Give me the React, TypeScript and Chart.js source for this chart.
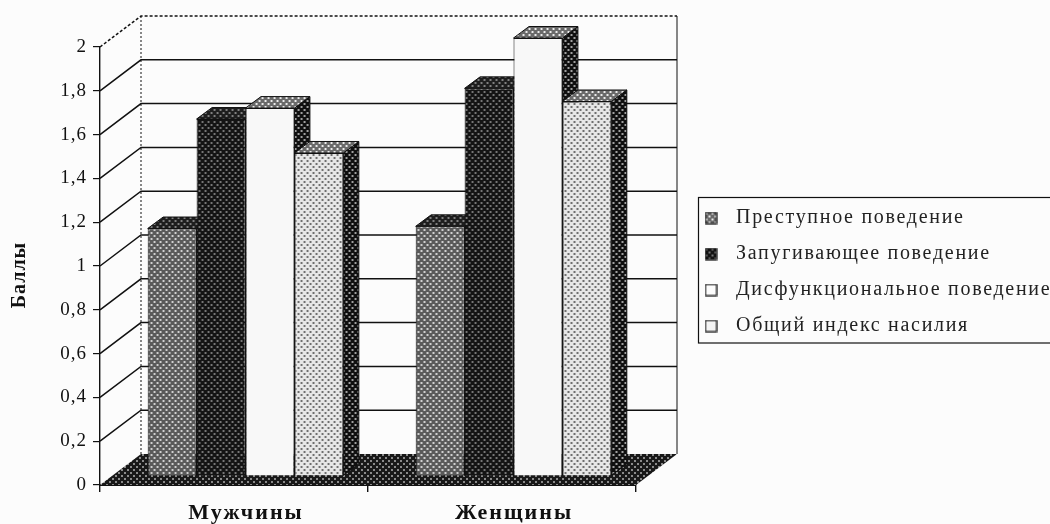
import React, { useEffect, useRef } from "react";
import { Chart, registerables } from "chart.js";

Chart.register(...registerables);

const categories = ["Мужчины", "Женщины"];
const tickLabels: Record<number, string> = {
  0: "0", 0.2: "0,2", 0.4: "0,4", 0.6: "0,6", 0.8: "0,8", 1: "1",
  1.2: "1,2", 1.4: "1,4", 1.6: "1,6", 1.8: "1,8", 2: "2",
};
const seriesNames = [
  "Преступное поведение",
  "Запугивающее поведение",
  "Дисфункциональное поведение",
  "Общий индекс насилия",
];
const criminal = [1.13, 1.14];
const intimidating = [1.63, 1.77];
const dysfunctional = [1.68, 2.0];
const violenceIndex = [1.475, 1.71];

const SERIF = '"Liberation Serif", serif';
const INK = "#111111";
const PAPER = "#fcfcfc";
const DEPTH = { x: 41, y: -31 };
const BAR_SHIFT = { x: 11.5, y: -9 };
const BAR_DEPTH = { x: 15.5, y: -11.5 };

function halftone(bg: string, dot: string): CanvasPattern {
  const c = document.createElement("canvas");
  c.width = 6;
  c.height = 6;
  const g = c.getContext("2d")!;
  g.fillStyle = bg;
  g.fillRect(0, 0, 6, 6);
  g.fillStyle = dot;
  g.fillRect(1, 1, 2, 2);
  g.fillRect(4, 4, 2, 2);
  return g.createPattern(c, "repeat")!;
}

function marker(fill: string | CanvasPattern): HTMLCanvasElement {
  const c = document.createElement("canvas");
  c.width = 13;
  c.height = 13;
  const g = c.getContext("2d")!;
  g.fillStyle = fill;
  g.fillRect(1, 1, 11, 11);
  g.strokeStyle = INK;
  g.lineWidth = 1.2;
  g.strokeRect(1, 1, 11, 11);
  return c;
}

function spaced(c: any, box: any, spacing: string) {
  if (box.__spaced) return;
  box.__spaced = true;
  const draw = box.draw.bind(box);
  box.draw = (area: any) => {
    c.ctx.letterSpacing = spacing;
    draw(area);
    c.ctx.letterSpacing = "0px";
  };
}

export default function App() {
  const ref = useRef<HTMLCanvasElement>(null);

  useEffect(() => {
    const canvas = ref.current!;
    const fills = {
      criminal: halftone("#5a5a5a", "#d0d0d0"),
      intimidating: halftone("#141414", "#767676"),
      dysfunctional: "#f8f8f8",
      index: halftone("#e6e6e6", "#6e6e6e"),
      side: halftone("#101010", "#a0a0a0"),
      topDark: halftone("#1e1e1e", "#808080"),
      topLight: halftone("#6a6a6a", "#ececec"),
      floor: halftone("#181818", "#8a8a8a"),
    };
    const seriesData = [criminal, intimidating, dysfunctional, violenceIndex];
    const seriesFill = [fills.criminal, fills.intimidating, fills.dysfunctional, fills.index];
    const topFill = [fills.topDark, fills.topDark, fills.topLight, fills.topLight];
    const markers = [
      marker(fills.topLight),
      marker(fills.intimidating),
      marker("#fcfcfc"),
      marker("#f4f4f4"),
    ];

    const drawSides = (c: any, meta: any) => {
      const { ctx } = c;
      ctx.save();
      ctx.strokeStyle = INK;
      ctx.lineWidth = 1;
      meta.data.forEach((b: any) => {
        const l = b.x - b.width / 2;
        const r = b.x + b.width / 2;
        const t = b.y;
        const bt = b.base;
        const dx = BAR_DEPTH.x;
        const dy = BAR_DEPTH.y;
        ctx.fillStyle = fills.side;
        ctx.beginPath();
        ctx.moveTo(r, t);
        ctx.lineTo(r + dx, t + dy);
        ctx.lineTo(r + dx, bt + dy);
        ctx.lineTo(r, bt);
        ctx.closePath();
        ctx.fill();
        ctx.stroke();
        ctx.fillStyle = topFill[meta.index];
        ctx.beginPath();
        ctx.moveTo(l, t);
        ctx.lineTo(l + dx, t + dy);
        ctx.lineTo(r + dx, t + dy);
        ctx.lineTo(r, t);
        ctx.closePath();
        ctx.fill();
        ctx.stroke();
      });
      ctx.restore();
    };

    const threeD = {
      id: "threeD",
      beforeLayout(c: any) {
        spaced(c, c.scales.x, "2px");
        spaced(c, c.scales.y, "1px");
        spaced(c, c.legend, "1.7px");
        const y = c.scales.y;
        if (!y.__title) {
          y.__title = true;
          const drawTitle = y.drawTitle.bind(y);
          y.drawTitle = () => {
            c.ctx.save();
            c.ctx.translate(0, 9);
            drawTitle();
            c.ctx.restore();
          };
        }
      },
      afterLayout(c: any) {
        const lg = c.legend;
        lg.left = 680;
        lg.right = 1060;
        lg.top = 192;
        lg.bottom = 420;
      },
      beforeDraw(c: Chart) {
        const { ctx } = c;
        ctx.save();
        ctx.fillStyle = PAPER;
        ctx.fillRect(0, 0, c.width, c.height);
        ctx.restore();
      },
      beforeDatasetDraw: () => false,
      beforeDatasetsDraw(c: any) {
        const { ctx, chartArea: a } = c;
        const y = c.scales.y;
        ctx.save();
        const base = y.getPixelForValue(0);
        ctx.strokeStyle = INK;
        ctx.lineWidth = 1.5;
        y.ticks.forEach((t: any) => {
          if (t.value === 0) return;
          const p = y.getPixelForValue(t.value);
          ctx.setLineDash(t.value === 2 ? [3, 2] : []);
          ctx.beginPath();
          ctx.moveTo(a.left, p);
          ctx.lineTo(a.left + DEPTH.x, p + DEPTH.y);
          ctx.lineTo(a.right + DEPTH.x, p + DEPTH.y);
          ctx.stroke();
        });
        ctx.setLineDash([2, 2]);
        ctx.lineWidth = 1;
        ctx.beginPath();
        ctx.moveTo(a.left + DEPTH.x, a.top + DEPTH.y);
        ctx.lineTo(a.left + DEPTH.x, base + DEPTH.y);
        ctx.stroke();
        ctx.setLineDash([]);
        ctx.beginPath();
        ctx.moveTo(a.right + DEPTH.x, a.top + DEPTH.y);
        ctx.lineTo(a.right + DEPTH.x, base + DEPTH.y);
        ctx.stroke();
        ctx.fillStyle = fills.floor;
        ctx.beginPath();
        ctx.moveTo(a.left, base);
        ctx.lineTo(a.right, base);
        ctx.lineTo(a.right + DEPTH.x, base + DEPTH.y);
        ctx.lineTo(a.left + DEPTH.x, base + DEPTH.y);
        ctx.closePath();
        ctx.fill();
        ctx.restore();
        ctx.save();
        ctx.translate(BAR_SHIFT.x, BAR_SHIFT.y);
        c.getSortedVisibleDatasetMetas().forEach((meta: any) => {
          drawSides(c, meta);
          meta.controller.draw();
        });
        ctx.restore();
      },
      afterDraw(c: Chart) {
        const { ctx } = c;
        ctx.save();
        ctx.strokeStyle = INK;
        ctx.lineWidth = 1.2;
        ctx.strokeRect(698.5, 197.5, 400, 145.5);
        ctx.restore();
      },
    };

    const chart = new Chart(canvas, {
      type: "bar",
      data: {
        labels: categories,
        datasets: seriesNames.map((label, i) => ({
          label,
          data: seriesData[i],
          backgroundColor: seriesFill[i],
          borderColor: INK,
          borderWidth: 1,
          barPercentage: 1,
          categoryPercentage: 0.73,
        })),
      },
      options: {
        animation: false,
        responsive: false,
        layout: { padding: { left: 0, top: 47, right: 414, bottom: 0 } },
        scales: {
          x: {
            grid: { drawOnChartArea: false, drawTicks: true, tickLength: 7, color: INK, lineWidth: 1.4 },
            border: { color: INK, width: 2 },
            afterFit: (s: any) => { s.height = 39; },
            ticks: {
              color: INK,
              padding: 8,
              labelOffset: 12,
              maxRotation: 0,
              font: { family: SERIF, size: 22, weight: "bold" },
            },
          },
          y: {
            min: 0,
            max: 2,
            afterFit: (s: any) => { s.width = 100; },
            grid: { drawOnChartArea: false, drawTicks: true, tickLength: 7, color: INK, lineWidth: 1.2 },
            border: { color: INK, width: 1.4 },
            ticks: {
              color: INK,
              stepSize: 0.2,
              padding: 6,
              font: { family: SERIF, size: 19 },
              callback: (v: any) => tickLabels[Math.round(Number(v) * 10) / 10],
            },
            title: {
              display: true,
              text: "Баллы",
              color: INK,
              padding: { top: 8, bottom: 0 },
              font: { family: SERIF, size: 20, weight: "bold" },
            },
          },
        },
        plugins: {
          tooltip: { enabled: false },
          legend: {
            display: true,
            position: "chartArea" as any,
            align: "start",
            labels: {
              usePointStyle: true,
              pointStyleWidth: 30,
              boxHeight: 13,
              padding: 16,
              color: "#222222",
              font: { family: SERIF, size: 20 },
              generateLabels: (c: any) =>
                Chart.defaults.plugins.legend.labels.generateLabels(c).map((item: any, i: number) => ({
                  ...item,
                  pointStyle: markers[i],
                })),
            },
          },
        },
      },
      plugins: [threeD as any],
    });
    return () => chart.destroy();
  }, []);

  return (
    <div style={{ position: "fixed", left: 0, top: 0, width: 1050, height: 524, overflow: "hidden", background: PAPER }}>
      <canvas ref={ref} width={1050} height={524} style={{ display: "block", filter: "blur(0.5px)" }} />
    </div>
  );
}
